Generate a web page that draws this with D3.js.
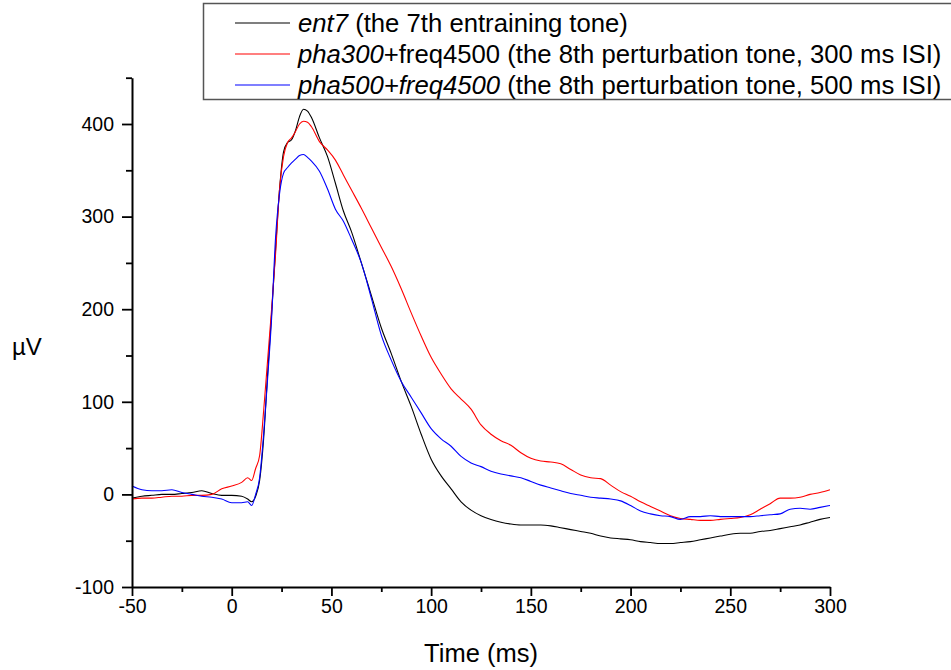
<!DOCTYPE html>
<html>
<head>
<meta charset="utf-8">
<script src="https://cdn.jsdelivr.net/npm/d3@7"></script>
<style>
    body { margin: 0; background: #fff; }
    text { font-family: "Liberation Sans", Arial, sans-serif; }
</style>
</head>
<body>
<div id="canvas"></div>
<script>
// time samples (ms), shared by the three traces
let times = [-50, -45, -40, -35, -30, -25, -20, -15, -10, -5, 0, 5, 8, 10, 12, 14, 16, 18, 20, 22, 24, 26, 28, 30,
    32, 34, 36, 38, 40, 44, 48, 52, 56, 60, 65, 70, 75, 80, 85, 90, 95, 100, 105, 110, 115, 120, 125, 130, 135,
    140, 145, 150, 155, 160, 165, 170, 175, 180, 185, 190, 195, 200, 205, 210, 215, 220, 225, 230, 235, 240, 245,
    250, 255, 260, 265, 270, 275, 280, 285, 290, 295, 300];

let ent7 = [-4, -2, -1, 0, 0, 1, 2, 4, 1, -1, -1, -2, -5, -8, -2, 15, 60, 130, 195, 265, 330, 370, 380, 383,
    393, 408, 416, 414, 407, 385, 365, 336, 306, 284, 250, 215, 180, 152, 122, 95, 65, 38, 20, 6, -8, -17, -23, -27, -30,
    -32, -33, -33, -33, -34, -36, -38, -40, -42, -45, -47, -48, -49, -51, -52, -53, -53, -52, -51, -49, -47, -45,
    -43, -42, -42, -40, -39, -37, -35, -33, -30, -27, -25];

let pha300 = [-5, -4, -4, -3, -2, -2, -1, -1, 0, 6, 9, 13, 18, 15, 28, 42, 90, 145, 200, 260, 330, 365, 380, 385,
    392, 400, 403, 402, 397, 381, 372, 361, 345, 329, 309, 288, 267, 246, 222, 196, 171, 148, 130, 114, 103, 92, 75, 65, 58,
    53, 45, 39, 36, 35, 33, 27, 21, 18, 17, 10, 3, -2, -8, -13, -18, -23, -26, -27, -28, -28, -27,
    -26, -25, -22, -16, -10, -4, -4, -3, 0, 2, 5];

let pha500 = [9, 5, 4, 4, 5, 2, 0, -2, -3, -5, -9, -9, -8, -12, 0, 18, 65, 125, 190, 278, 325, 347, 353, 358,
    362, 366, 367, 364, 360, 349, 330, 308, 295, 276, 250, 212, 172, 145, 122, 105, 88, 71, 60, 52, 41, 34, 30, 25, 22,
    20, 18, 14, 10, 7, 4, 1, -1, -3, -4, -5, -7, -12, -18, -21, -23, -24, -27, -24, -24, -23, -24,
    -24, -24, -24, -23, -22, -21, -16, -15, -16, -14, -12];

let xTicks = [-50, 0, 50, 100, 150, 200, 250, 300];
let yTicks = [-100, 0, 100, 200, 300, 400];

let series = [
    { name: "ent7", values: ent7, color: "#000000",
      label: [["ent7", true], [" (the 7th entraining tone)", false]] },
    { name: "pha300", values: pha300, color: "#ff0000",
      label: [["pha300", true], ["+freq4500 (the 8th perturbation tone, 300 ms ISI)", false]] },
    { name: "pha500", values: pha500, color: "#0000ff",
      label: [["pha500+freq4500", true], [" (the 8th perturbation tone, 500 ms ISI)", false]] }
];

let width = 951, height = 670;
let svg = d3.select("#canvas")
    .append("svg")
    .attr("width", width)
    .attr("height", height);

let x = d3.scaleLinear().domain([-50, 300]).range([132, 830]);
let y = d3.scaleLinear().domain([-100, 450]).range([587, 77.7]);

// traces
let line = d3.line()
    .x((d, i) => x(times[i]))
    .y(d => y(d))
    .curve(d3.curveMonotoneX);

series.forEach(s => {
    svg.append("path")
        .datum(s.values)
        .attr("fill", "none")
        .attr("stroke", s.color)
        .attr("stroke-width", 1.1)
        .attr("d", line);
});

// axes: major ticks labelled, minor ticks halfway
let fmt = d => String(d);   // plain hyphen for negatives
svg.append("g")
    .attr("transform", `translate(0,${y(-100)})`)
    .call(d3.axisBottom(x).tickValues(xTicks).tickFormat(fmt).tickSize(9).tickPadding(3).tickSizeOuter(0));
svg.append("g")
    .attr("transform", `translate(0,${y(-100)})`)
    .call(d3.axisBottom(x).tickValues(d3.range(-25, 300, 50)).tickSize(5).tickFormat("").tickSizeOuter(0))
    .call(g => g.select(".domain").remove());

svg.append("g")
    .attr("transform", `translate(${x(-50)},0)`)
    .call(d3.axisLeft(y).tickValues(yTicks).tickFormat(fmt).tickSize(10).tickPadding(8).tickSizeOuter(0));
svg.append("g")
    .attr("transform", `translate(${x(-50)},0)`)
    .call(d3.axisLeft(y).tickValues(d3.range(-50, 451, 100)).tickSize(6).tickFormat("").tickSizeOuter(0))
    .call(g => g.select(".domain").remove());

svg.selectAll(".domain").attr("stroke-width", 2);
svg.selectAll(".tick line").attr("stroke-width", 1.8);
svg.selectAll(".tick text")
    .attr("font-size", 19.5)
    .attr("font-family", "Liberation Sans, Arial, sans-serif")
    .attr("fill", "#000");

svg.append("text")
    .attr("x", 481)
    .attr("y", 662)
    .attr("text-anchor", "middle")
    .attr("font-size", 25.5)
    .text("Time (ms)");

svg.append("text")
    .attr("x", 12)
    .attr("y", 355)
    .attr("font-size", 24)
    .text("µV");

// legend
let legend = svg.append("g");
legend.append("rect")
    .attr("x", 203.5)
    .attr("y", 3.5)
    .attr("width", 760)
    .attr("height", 96)
    .attr("fill", "#fff")
    .attr("stroke", "#555")
    .attr("stroke-width", 1.5);

series.forEach((s, i) => {
    let base = 31.5 + i * 31;
    legend.append("line")
        .attr("x1", 235).attr("x2", 290)
        .attr("y1", base - 8.5).attr("y2", base - 8.5)
        .attr("stroke", s.color)
        .attr("stroke-width", 1.1);
    let t = legend.append("text")
        .attr("x", 298)
        .attr("y", base)
        .attr("font-size", 25.7);
    s.label.forEach(p => {
        t.append("tspan")
            .attr("font-style", p[1] ? "italic" : "normal")
            .text(p[0]);
    });
});
</script>
</body>
</html>
